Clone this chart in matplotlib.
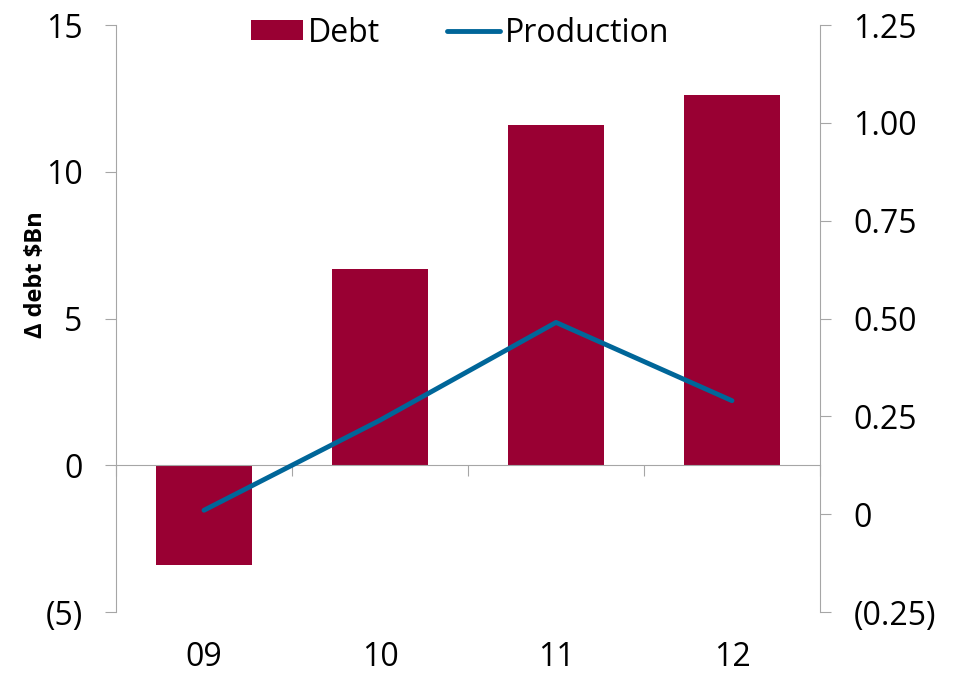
import matplotlib
matplotlib.use("Agg")
import matplotlib.pyplot as plt
from matplotlib.ticker import FuncFormatter
import numpy as np

plt.rcParams['font.family'] = ['Open Sans', 'DejaVu Sans']

# Data
years = ["09", "10", "11", "12"]
debt_change = [-3.4, 6.7, 11.6, 12.6]        # $Bn, left axis
production = [0.01, 0.24, 0.49, 0.29]        # right axis

bar_color = "#990033"
line_color = "#006699"
spine_color = "#A6A6A6"
fs = 23
tick_len = 8
tick_pad = 16

fig = plt.figure(figsize=(9.55, 6.74), dpi=100)
ax = fig.add_axes([116 / 955, 1 - 612 / 674, (820 - 116) / 955, (612 - 25) / 674])

x = np.arange(len(years))
ax.bar(x, debt_change, width=0.54, color=bar_color, label="Debt", zorder=2)

ax.set_xlim(-0.5, len(years) - 0.5)
ax.set_ylim(-5, 15)
ax.set_yticks([-5, 0, 5, 10, 15])


def paren_int(v, pos):
    if v < 0:
        return f"({abs(v):.0f})"
    return f"{v:.0f}"


ax.yaxis.set_major_formatter(FuncFormatter(paren_int))
ax.set_ylabel("Δ debt $Bn", fontsize=17, fontweight="bold")
ax.yaxis.set_label_coords(-0.097, 0.574)

# Spines: left axis line, horizontal zero line with category boundary ticks
for s in ("top", "right"):
    ax.spines[s].set_visible(False)
ax.spines["left"].set_color(spine_color)
ax.spines["bottom"].set_position(("data", 0))
ax.spines["bottom"].set_color(spine_color)
ax.spines["bottom"].set_zorder(3)
ax.set_xticks(np.arange(len(years) + 1) - 0.5)
ax.tick_params(axis="x", which="major", length=tick_len, color=spine_color, labelbottom=False)
ax.tick_params(axis="y", length=tick_len, color=spine_color, labelsize=fs, pad=tick_pad)

# Category labels along the bottom
sec = ax.secondary_xaxis("bottom")
sec.set_xticks(x, years)
sec.tick_params(length=0, labelsize=fs, pad=21)
sec.spines["bottom"].set_visible(False)

# Production on the right axis
ax2 = ax.twinx()
ax2.plot(x, production, color=line_color, lw=3.5, solid_capstyle="round",
         label="Production", zorder=4)
ax2.set_ylim(-0.25, 1.25)
ax2.set_yticks([-0.25, 0, 0.25, 0.5, 0.75, 1.0, 1.25])


def paren_dec(v, pos):
    if abs(v) < 1e-9:
        return "0"
    if v < 0:
        return f"({abs(v):.2f})"
    return f"{v:.2f}"


ax2.yaxis.set_major_formatter(FuncFormatter(paren_dec))
for s in ("top", "left", "bottom"):
    ax2.spines[s].set_visible(False)
ax2.spines["right"].set_color(spine_color)
ax2.tick_params(axis="y", length=tick_len, color=spine_color, labelsize=fs, pad=tick_pad)

# Legend
h1, l1 = ax.get_legend_handles_labels()
h2, l2 = ax2.get_legend_handles_labels()
fig.legend(h1 + h2, l1 + l2, loc="center", bbox_to_anchor=(460 / 955, 1 - 33 / 674),
           ncol=2, frameon=False, fontsize=fs, handlelength=1.65, handleheight=0.6,
           handletextpad=0.15, columnspacing=2.1, borderpad=0)

fig.savefig("out.png", dpi=100)
